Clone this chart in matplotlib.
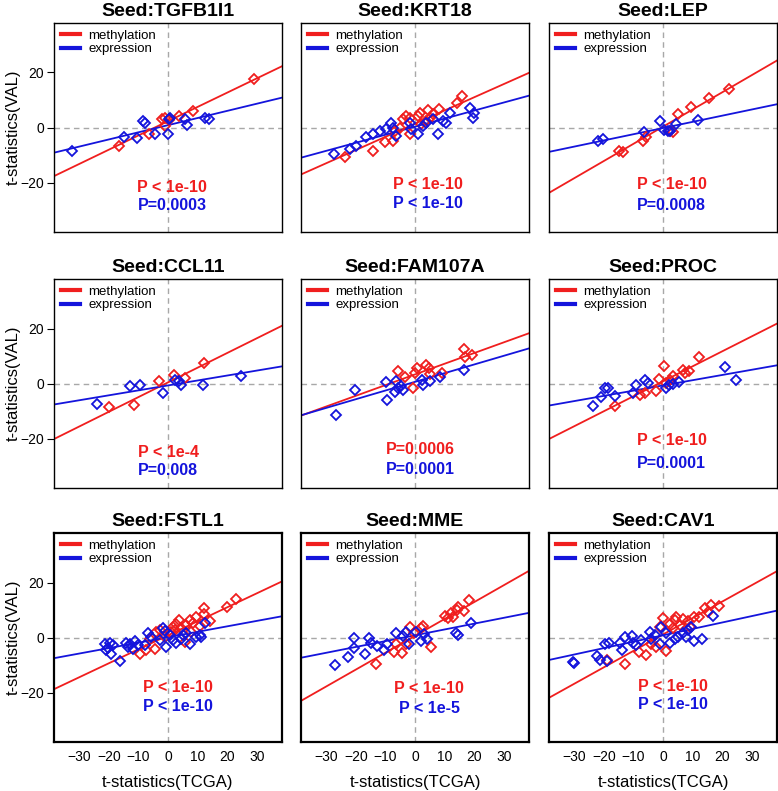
import numpy as np
import matplotlib
matplotlib.use("Agg")
import matplotlib.pyplot as plt
from matplotlib.lines import Line2D

plt.rcParams['font.family'] = ['Liberation Sans', 'DejaVu Sans']

# seeds, one panel each (row by row)
seeds = ["TGFB1I1", "KRT18", "LEP", "CCL11", "FAM107A", "PROC", "FSTL1", "MME", "CAV1"]

# points: [t TCGA, t VAL]
tgfb1i1_meth = np.array([[29.2, 17.6], [8.6, 6.0], [3.6, 4.2], [-2.0, 3.0], [-1.1, 3.6], [0.2, 2.6],
                         [-6.5, -2.4], [-16.6, -6.6], [-0.9, 0.6]])
tgfb1i1_expr = np.array([[-32.3, -8.6], [-14.9, -3.6], [-10.4, -3.8], [-8.5, 2.2], [-7.9, 1.8], [-4.3, -2.2],
                         [0.0, -2.4], [0.2, 3.0], [0.8, 3.6], [5.8, 3.0], [6.4, 1.0], [12.6, 3.6], [13.7, 3.0]])
krt18_meth = np.array([[15.9, 11.4], [14.1, 9.0], [8.1, 6.6], [4.4, 6.2], [1.6, 5.4], [1.0, 4.2], [-1.8, 3.6],
                       [-4.0, 3.0], [-2.9, 4.2], [6.1, 4.8], [4.9, 3.6], [3.8, 2.4], [2.1, 1.2], [-1.8, -2.4],
                       [-7.4, -4.8], [-10.2, -5.4], [-14.1, -8.4], [-23.7, -10.8], [-6.8, -1.2], [-5.2, 0.0]])
krt18_expr = np.array([[-27.3, -9.6], [-22.0, -7.8], [-19.8, -6.6], [-16.4, -3.6], [-14.1, -2.2], [-11.9, -1.2],
                       [-9.7, -0.6], [-8.0, 1.8], [-7.4, 0.0], [-6.3, -3.0], [-1.8, 1.8], [-1.2, -0.6], [1.0, -2.4],
                       [2.7, 0.6], [3.8, 1.8], [6.1, 3.0], [7.7, -2.4], [10.5, 1.8], [9.4, 2.4], [11.9, 5.4],
                       [18.6, 7.0], [19.9, 5.4], [19.6, 3.6]])
lep_meth = np.array([[22.2, 14.1], [15.5, 10.6], [9.5, 7.4], [5.1, 5.0], [-6.7, -4.8], [-5.6, -3.4],
                     [-14.8, -8.4], [-13.5, -9.0], [3.4, -1.8], [2.2, -1.2]])
lep_expr = np.array([[-21.9, -5.0], [-20.4, -4.1], [-6.5, -1.6], [-0.9, 2.2], [0.2, -1.0], [1.7, -1.2],
                     [2.5, -1.4], [4.5, 1.2], [11.8, 2.8]])
ccl11_meth = np.array([[12.0, 7.4], [1.9, 3.2], [5.8, 2.0], [-3.1, 0.8], [-11.6, -7.9], [-19.8, -8.4]])
ccl11_expr = np.array([[-23.9, -7.6], [-13.0, -1.0], [-9.3, -0.7], [-1.7, -3.6], [3.6, 0.8], [4.5, -0.5],
                       [11.7, -0.7], [24.7, 2.9], [2.5, 1.4]])
fam107a_meth = np.array([[16.5, 12.6], [16.9, 9.6], [19.3, 10.4], [3.8, 6.6], [4.7, 5.8], [0.8, 5.6],
                         [-0.1, 3.8], [-5.7, 4.4], [-3.5, 2.4], [4.9, 3.6], [9.2, 3.8], [-0.7, -1.8]])
fam107a_expr = np.array([[-26.8, -11.5], [-20.3, -2.2], [-9.7, 0.5], [-9.4, -6.0], [-6.3, 0.8], [-5.9, -1.6],
                         [-4.6, -1.0], [-4.0, -2.4], [-6.8, -3.1], [2.5, 1.4], [2.7, -0.4], [4.9, 0.8],
                         [8.3, 2.4], [16.7, 4.8]])
proc_meth = np.array([[12.1, 9.5], [0.2, 6.2], [6.7, 5.0], [8.8, 4.4], [7.4, 3.8], [3.4, 2.6], [2.2, 1.4],
                      [-1.3, 1.7], [-2.2, -2.8], [-6.2, -3.6], [-7.9, -4.0], [-16.3, -8.2], [1.1, 0.2]])
proc_expr = np.array([[21.1, 5.9], [24.5, 1.1], [-23.6, -8.2], [-21.1, -4.9], [-19.6, -1.7], [-18.5, -1.6],
                      [-16.3, -4.6], [-10.3, -3.4], [-9.2, -0.7], [-6.2, 1.4], [-5.1, 0.2], [1.1, -1.6],
                      [2.0, -0.7], [3.4, 0.0], [5.3, 0.5]])
fstl1_meth = np.array([[22.9, 13.9], [20.0, 11.0], [12.2, 10.6], [14.3, 6.1], [12.0, 8.5], [9.6, 7.6],
                       [7.3, 6.3], [3.7, 6.3], [2.8, 4.9], [1.7, 3.9], [4.5, 3.3], [6.2, 4.5], [8.4, 5.1],
                       [10.7, 4.1], [5.6, -1.6], [1.1, 2.1], [-2.8, 2.9], [-3.9, 2.1], [-4.5, -4.0],
                       [-7.3, -4.6], [-9.6, -5.9], [-6.2, -0.4], [-1.1, 0.2], [2.3, 2.7], [7.9, 2.1]])
fstl1_expr = np.array([[-21.4, -2.2], [-19.7, -2.0], [-18.6, -2.8], [-20.8, -4.6], [-19.1, -5.9], [-20.3, -3.7],
                       [-16.1, -8.5], [-14.1, -2.0], [-12.9, -2.2], [-11.3, -1.2], [-13.5, -3.4], [-11.8, -4.0],
                       [-10.1, -2.8], [-7.9, -2.8], [-6.8, 1.7], [-5.6, 0.2], [-1.7, 3.3], [-1.1, 2.4],
                       [-2.8, -1.0], [-0.6, -3.4], [1.7, -1.0], [2.8, -2.0], [4.5, -0.4], [7.3, -2.2],
                       [6.2, 1.5], [9.6, 0.2], [10.7, 0.9], [11.3, 0.2], [12.4, 5.1], [5.1, 0.9], [0.6, 0.9]])
mme_meth = np.array([[18.2, 13.7], [16.5, 9.8], [14.5, 11.2], [14.2, 10.0], [12.2, 8.8], [12.8, 7.6],
                     [10.0, 7.8], [11.1, 7.0], [2.6, 4.1], [-1.6, 3.7], [2.0, 3.3], [5.4, -3.4], [-6.5, -2.4],
                     [-7.0, -5.2], [-4.5, -5.6], [-3.1, -2.2], [-13.3, -9.5], [-0.2, 1.5]])
mme_expr = np.array([[-27.1, -9.9], [-22.6, -7.1], [-20.6, -3.8], [-20.6, 0.0], [-17.0, -5.9], [-15.7, 0.0],
                     [-15.0, -2.0], [-12.7, -3.2], [-10.4, -4.4], [-9.3, -2.2], [-6.5, 1.7], [-4.2, 0.5],
                     [-3.1, 2.1], [-1.9, -2.4], [0.3, 2.1], [2.0, -1.2], [3.2, 1.2], [4.0, -0.4],
                     [13.7, 1.7], [14.5, 0.9], [19.0, 5.1]])
cav1_meth = np.array([[19.0, 11.5], [16.2, 11.8], [14.3, 10.6], [15.1, 9.4], [12.3, 7.6], [10.6, 7.3],
                      [8.4, 6.1], [6.7, 6.6], [4.5, 7.6], [3.9, 6.3], [5.6, 4.5], [2.2, 4.9], [0.0, 7.0],
                      [-0.9, 3.9], [-2.2, -3.4], [0.9, -4.9], [-5.6, -6.5], [-8.1, -5.2], [-12.9, -9.5],
                      [-19.0, -8.3], [-3.9, -2.2], [3.4, 3.3], [9.0, 3.9]])
cav1_expr = np.array([[-30.5, -8.9], [-30.0, -9.3], [-22.4, -6.8], [-21.3, -8.0], [-18.8, -8.5], [-19.6, -2.4],
                      [-18.1, -2.0], [-14.6, -2.0], [-14.0, -4.4], [-12.9, 0.2], [-10.6, 0.5], [-10.1, -2.0],
                      [-9.0, -2.8], [-7.3, -1.0], [-4.5, 2.1], [-3.9, -0.4], [-2.8, 0.9], [-1.1, -2.2],
                      [-0.6, 3.9], [1.1, 1.5], [2.2, -2.0], [5.0, 0.2], [6.7, 1.7], [8.4, 2.9], [9.5, 3.7],
                      [10.6, -1.2], [13.2, -0.7], [16.8, 7.8], [3.9, -0.4], [7.8, 0.2]])

meth_pts = [tgfb1i1_meth, krt18_meth, lep_meth, ccl11_meth, fam107a_meth, proc_meth, fstl1_meth, mme_meth, cav1_meth]
expr_pts = [tgfb1i1_expr, krt18_expr, lep_expr, ccl11_expr, fam107a_expr, proc_expr, fstl1_expr, mme_expr, cav1_expr]

# fitted lines (slope, intercept) as drawn
meth_slope = [0.519, 0.48, 0.625, 0.535, 0.389, 0.545, 0.509, 0.614, 0.598]
meth_icpt = [2.3, 1.4, 0.3, 0.4, 3.3, 0.8, 0.8, 0.6, 1.1]
expr_slope = [0.26, 0.293, 0.225, 0.18, 0.316, 0.19, 0.198, 0.212, 0.233]
expr_icpt = [0.85, 0.3, -0.2, -0.7, 0.6, -0.7, 0.1, 0.8, 0.8]

meth_p = ["P < 1e-10", "P < 1e-10", "P < 1e-10", "P < 1e-4", "P=0.0006", "P < 1e-10", "P < 1e-10", "P < 1e-10", "P < 1e-10"]
expr_p = ["P=0.0003", "P < 1e-10", "P=0.0008", "P=0.008", "P=0.0001", "P=0.0001", "P < 1e-10", "P < 1e-5", "P < 1e-10"]

# where the p-value text sits (axes fraction)
p_x = [0.518, 0.558, 0.538, 0.5, 0.522, 0.538, 0.545, 0.562, 0.545]
p_y_meth = [0.215, 0.225, 0.228, 0.169, 0.182, 0.226, 0.26, 0.255, 0.267]
p_y_expr = [0.126, 0.134, 0.126, 0.086, 0.090, 0.118, 0.169, 0.161, 0.18]

RED = '#F01E1E'
BLUE = '#1414DC'
W, H = 778, 791
col_left = [54, 301, 549]
row_top = [23, 279, 533]
pw, ph = 228, 209
xl = (-38.5, 38.5)
yl = (-38, 38)

fig = plt.figure(figsize=(W / 100, H / 100), dpi=100)

for i, name in enumerate(seeds):
    r, c = divmod(i, 3)
    ax = fig.add_axes([col_left[c] / W, 1 - (row_top[r] + ph) / H, pw / W, ph / H])
    ax.set_xlim(xl)
    ax.set_ylim(yl)
    ax.axhline(0, color='#A8A8A8', ls=(0, (4, 3)), lw=1, zorder=0)
    ax.axvline(0, color='#A8A8A8', ls=(0, (4, 3)), lw=1, zorder=0)

    xs = np.array(xl)
    ax.plot(xs, meth_slope[i] * xs + meth_icpt[i], color=RED, lw=1.3)
    ax.plot(xs, expr_slope[i] * xs + expr_icpt[i], color=BLUE, lw=1.3)
    ax.plot(meth_pts[i][:, 0], meth_pts[i][:, 1], 'D', ms=5.2, mfc='none', mec=RED, mew=1.3)
    ax.plot(expr_pts[i][:, 0], expr_pts[i][:, 1], 'D', ms=5.2, mfc='none', mec=BLUE, mew=1.3)

    ax.text(p_x[i], p_y_meth[i], meth_p[i], transform=ax.transAxes, ha='center', va='center',
            color=RED, fontsize=11.5, fontweight='bold')
    ax.text(p_x[i], p_y_expr[i], expr_p[i], transform=ax.transAxes, ha='center', va='center',
            color=BLUE, fontsize=11.5, fontweight='bold')

    hnd = [Line2D([], [], color=RED, lw=3), Line2D([], [], color=BLUE, lw=3)]
    ax.legend(hnd, ["methylation", "expression"], loc='upper left', frameon=False, fontsize=9.5,
              handlelength=1.5, handletextpad=0.6, labelspacing=0.08, borderaxespad=0.1)

    ax.set_title("Seed:" + name, fontsize=14, fontweight='bold', pad=5)

    for s in ax.spines.values():
        s.set_linewidth(1.6 if r == 2 else 1.0)

    if c == 0:
        ax.set_yticks([-20, 0, 20])
        ax.tick_params(axis='y', length=5, labelsize=10, pad=2)
        ax.set_ylabel("t-statistics(VAL)", fontsize=12)
        ax.yaxis.set_label_coords(-0.148, 0.5)
    else:
        ax.set_yticks([])
    if r == 2:
        ax.set_xticks([-30, -20, -10, 0, 10, 20, 30])
        ax.tick_params(axis='x', length=0, labelsize=10, pad=6)
        ax.set_xlabel("t-statistics(TCGA)", fontsize=12)
        ax.xaxis.set_label_coords(0.5, -0.158)
    else:
        ax.set_xticks([])

fig.savefig("out.png", dpi=100)
